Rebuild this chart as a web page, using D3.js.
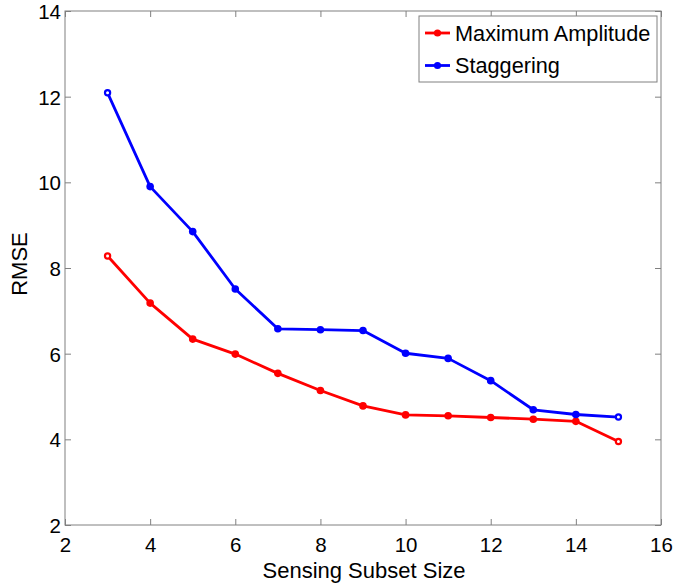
<!DOCTYPE html>
<html>
<head>
<meta charset="utf-8">
<script src="https://cdn.jsdelivr.net/npm/d3@7"></script>
<style>
  body { margin: 0; background: #fff; }
  text { font-family: "Liberation Sans", Arial, Helvetica, sans-serif; fill: #000; }
</style>
</head>
<body>
<svg id="chart" width="675" height="585"></svg>
<script>
const subsetSizes = [3, 4, 5, 6, 7, 8, 9, 10, 11, 12, 13, 14, 15];
const maxAmplitude = [8.28, 7.18, 6.34, 5.99, 5.54, 5.14, 4.78, 4.57, 4.55, 4.51, 4.47, 4.42, 3.95];
const staggering = [12.09, 9.90, 8.85, 7.51, 6.58, 6.56, 6.54, 6.01, 5.89, 5.37, 4.69, 4.58, 4.52];
const xTicks = [2, 4, 6, 8, 10, 12, 14, 16];
const yTicks = [2, 4, 6, 8, 10, 12, 14];
const seriesNames = ["Maximum Amplitude", "Staggering"];
const seriesColors = ["#ff0000", "#0000ff"];

const svg = d3.select("#chart");
const pL = 65, pR = 661, pT = 11, pB = 525;
const x = d3.scaleLinear().domain([2, 16]).range([pL, pR]);
const y = d3.scaleLinear().domain([2, 14]).range([pB, pT]);
const axisColor = "#808080";
const tickLen = 6;

// plot frame
svg.append("rect").attr("x", pL).attr("y", pT)
  .attr("width", pR - pL).attr("height", pB - pT)
  .attr("fill", "none").attr("stroke", axisColor).attr("stroke-width", 1);

// axes with inward ticks
const xAxisB = d3.axisBottom(x).tickValues(xTicks).tickSize(-tickLen).tickPadding(12).tickFormat(d3.format("d"));
const gxb = svg.append("g").attr("transform", `translate(0,${pB})`).call(xAxisB);
const xAxisT = d3.axisTop(x).tickValues(xTicks).tickSize(-tickLen).tickFormat("");
const gxt = svg.append("g").attr("transform", `translate(0,${pT})`).call(xAxisT);
const yAxisL = d3.axisLeft(y).tickValues(yTicks).tickSize(-tickLen).tickPadding(4).tickFormat(d3.format("d"));
const gyl = svg.append("g").attr("transform", `translate(${pL},0)`).call(yAxisL);
const yAxisR = d3.axisRight(y).tickValues(yTicks).tickSize(-tickLen).tickFormat("");
const gyr = svg.append("g").attr("transform", `translate(${pR},0)`).call(yAxisR);

[gxb, gxt, gyl, gyr].forEach(g => {
  g.select(".domain").remove();
  g.selectAll(".tick line").attr("stroke", axisColor);
  g.selectAll(".tick text").style("font-size", "20.5px")
    .style("font-family", '"Liberation Sans", Arial, sans-serif').attr("fill", "#000");
});
gxb.selectAll(".tick text").attr("dy", "0.71em");
gyl.selectAll(".tick text").attr("dy", "0.36em");

// axis labels
svg.append("text").attr("x", (pL + pR) / 2 + 1).attr("y", 578)
  .attr("text-anchor", "middle").style("font-size", "22px").text("Sensing Subset Size");
svg.append("text").attr("transform", `translate(27,${(pT + pB) / 2 - 4}) rotate(-90)`)
  .attr("text-anchor", "middle").style("font-size", "22px").text("RMSE");

// series
const allSeries = [maxAmplitude, staggering];
const line = d3.line().x((d, i) => x(subsetSizes[i])).y(d => y(d));
allSeries.forEach((vals, si) => {
  const col = seriesColors[si];
  svg.append("path").datum(vals).attr("d", line)
    .attr("fill", "none").attr("stroke", col).attr("stroke-width", 2.8)
    .attr("stroke-linejoin", "round");
  svg.append("g").selectAll("circle").data(vals).join("circle")
    .attr("cx", (d, i) => x(subsetSizes[i])).attr("cy", d => y(d))
    .attr("r", (d, i) => (i === 0 || i === vals.length - 1) ? 2.6 : 3.8)
    .attr("fill", (d, i) => (i === 0 || i === vals.length - 1) ? "#fff" : col)
    .attr("stroke", col)
    .attr("stroke-width", (d, i) => (i === 0 || i === vals.length - 1) ? 2.2 : 0);
});

// legend
const lg = svg.append("g");
lg.append("rect").attr("x", 419).attr("y", 16).attr("width", 238).attr("height", 66)
  .attr("fill", "#fff").attr("stroke", axisColor).attr("stroke-width", 1);
seriesNames.forEach((name, i) => {
  const cy = 33 + i * 32.5;
  lg.append("line").attr("x1", 425).attr("x2", 450).attr("y1", cy).attr("y2", cy)
    .attr("stroke", seriesColors[i]).attr("stroke-width", 2.8);
  lg.append("circle").attr("cx", 437.5).attr("cy", cy).attr("r", 3.6).attr("fill", seriesColors[i]);
  lg.append("text").attr("x", 455).attr("y", cy).attr("dy", "0.36em")
    .style("font-size", "21.7px").text(name);
});
</script>
</body>
</html>
